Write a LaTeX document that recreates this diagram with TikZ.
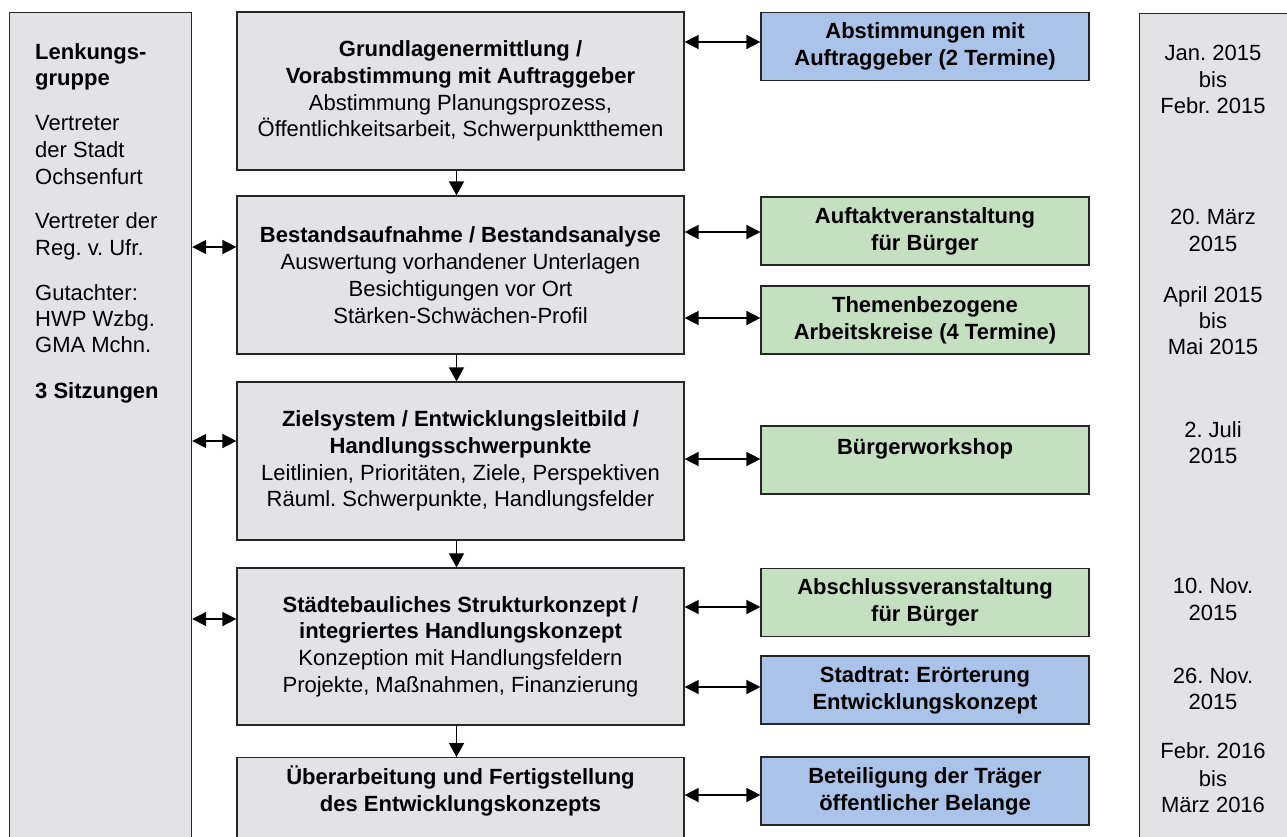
\documentclass[tikz,border=0pt]{standalone}
\usepackage{fontspec}
\setmainfont{Liberation Sans}
\usetikzlibrary{arrows.meta}
\definecolor{boxgray}{RGB}{227,227,229}
\definecolor{boxblue}{RGB}{169,196,232}
\definecolor{boxgreen}{RGB}{196,224,193}
\def\boxfont{\fontsize{22}{26.8}\selectfont\frenchspacing}

\begin{document}
\begin{tikzpicture}[x=1pt,y=-1pt]
                \tikzstyle{box}=[draw=black!85,line width=1.2pt,inner sep=0pt,font=\boxfont,text=black]
                \tikzstyle{stage}=[box,fill=boxgray,minimum width=447pt,minimum height=158pt,align=center]
                \tikzstyle{meeting}=[box,minimum width=328pt,minimum height=68pt,align=center,font=\boxfont\bfseries]
                \tikzstyle{citizen}=[meeting,fill=boxgreen]
                \tikzstyle{council}=[meeting,fill=boxblue]
                \tikzstyle{sidecol}=[box,fill=boxgray,anchor=north west,minimum height=850pt]
                \tikzstyle{txtline}=[font=\boxfont,inner sep=0pt,text=black]
                \tikzstyle{seqarrow}=[-{Triangle[length=14pt,width=15pt]},line width=1.5pt]
                \tikzstyle{dblarrow}=[{Triangle[length=14pt,width=14pt]}-{Triangle[length=14pt,width=14pt]},line width=1.5pt]

                \useasboundingbox (0,0) rectangle (1287,836);
                \clip (0,0) rectangle (1287,836);

                % Draw the steering group column and the date column
                \node[sidecol,minimum width=182pt] (lenk) at (9,12) {};
                \node[sidecol,minimum width=148pt] (dates) at (1139,13) {};

                % Text of the steering group
                \foreach \txt/\y [count=\i] in {{\bfseries Lenkungs-}/59, {\bfseries gruppe}/85.5,
                        Vertreter/130, der Stadt/157, Ochsenfurt/184, Vertreter der/228, Reg. v. Ufr./255,
                        Gutachter:/300, HWP Wzbg./326, GMA Mchn./352, {\bfseries 3 Sitzungen}/398}
                    \node[txtline,anchor=base west] (L-\i) at (35,\y) {\txt};

                % Dates
                \foreach \txt/\y [count=\i] in {Jan. 2015/60, bis/87, Febr. 2015/113, 20. März/224, 2015/251,
                        April 2015/302, bis/328, Mai 2015/354, 2. Juli/437, 2015/463, 10. Nov./593, 2015/620,
                        26. Nov./683, 2015/709, Febr. 2016/758, bis/786, März 2016/812}
                    \node[txtline,anchor=base] (D-\i) at (1213,\y) {\txt};

                % Draw the steps of the process
                \node[stage] (S-1) at (460.5,91) {\textbf{Grundlagenermittlung /}\\\textbf{Vorabstimmung mit Auftraggeber}\\Abstimmung Planungsprozess,\\Öffentlichkeitsarbeit, Schwerpunktthemen};
                \node[stage] (S-2) at (460.5,275) {\textbf{Bestandsaufnahme / Bestandsanalyse}\\Auswertung vorhandener Unterlagen\\Besichtigungen vor Ort\\Stärken-Schwächen-Profil};
                \node[stage] (S-3) at (460.5,461) {\textbf{Zielsystem / Entwicklungsleitbild /}\\\textbf{Handlungsschwerpunkte}\\Leitlinien, Prioritäten, Ziele, Perspektiven\\Räuml. Schwerpunkte, Handlungsfelder};
                \node[stage,minimum height=157pt] (S-4) at (460.5,646.5) {\textbf{Städtebauliches Strukturkonzept /}\\\textbf{integriertes Handlungskonzept}\\Konzeption mit Handlungsfeldern\\Projekte, Maßnahmen, Finanzierung};
                \node[stage,minimum height=0pt,anchor=north,inner ysep=8pt] (S-5) at (460.5,757) {\textbf{Überarbeitung und Fertigstellung}\\\textbf{des Entwicklungskonzepts}\\[30pt]\strut};

                % Draw the meetings
                \node[council] (R-1) at (925,46.5) {Abstimmungen mit\\Auftraggeber (2 Termine)};
                \node[citizen] (R-2) at (925,231) {Auftaktveranstaltung\\für Bürger};
                \node[citizen] (R-3) at (925,320) {Themenbezogene\\Arbeitskreise (4 Termine)};
                \node[citizen] (R-4) at (925,460) {Bürgerworkshop\\\mbox{}};
                \node[citizen] (R-5) at (925,602.5) {Abschlussveranstaltung\\für Bürger};
                \node[council] (R-6) at (925,690) {Stadtrat: Erörterung\\Entwicklungskonzept};
                \node[council] (R-7) at (925,791) {Beteiligung der Träger\\öffentlicher Belange};

                % Connect the steps one after the other
                \foreach \a/\b in {1/2,2/3,3/4,4/5}
                    \draw[seqarrow] ([xshift=-4pt]S-\a.south) -- ([xshift=-4pt]S-\b.north);

                % Connect the steps with the meetings
                \foreach \s/\r/\dy in {1/1/4.5, 2/2/-1, 2/3/2, 3/4/1, 4/5/-4.5, 4/6/3, 5/7/-4}
                    \draw[dblarrow] ([yshift=\dy pt]S-\s.east |- R-\r.west) -- ([yshift=\dy pt]R-\r.west);

                % Connect the steering group with the steps
                \foreach \s/\dy in {2/28, 3/20, 4/27.5}
                    \draw[dblarrow] ([yshift=\dy pt]lenk.east |- S-\s.west) -- ([yshift=\dy pt]S-\s.west);
            \end{tikzpicture}
\end{document}
